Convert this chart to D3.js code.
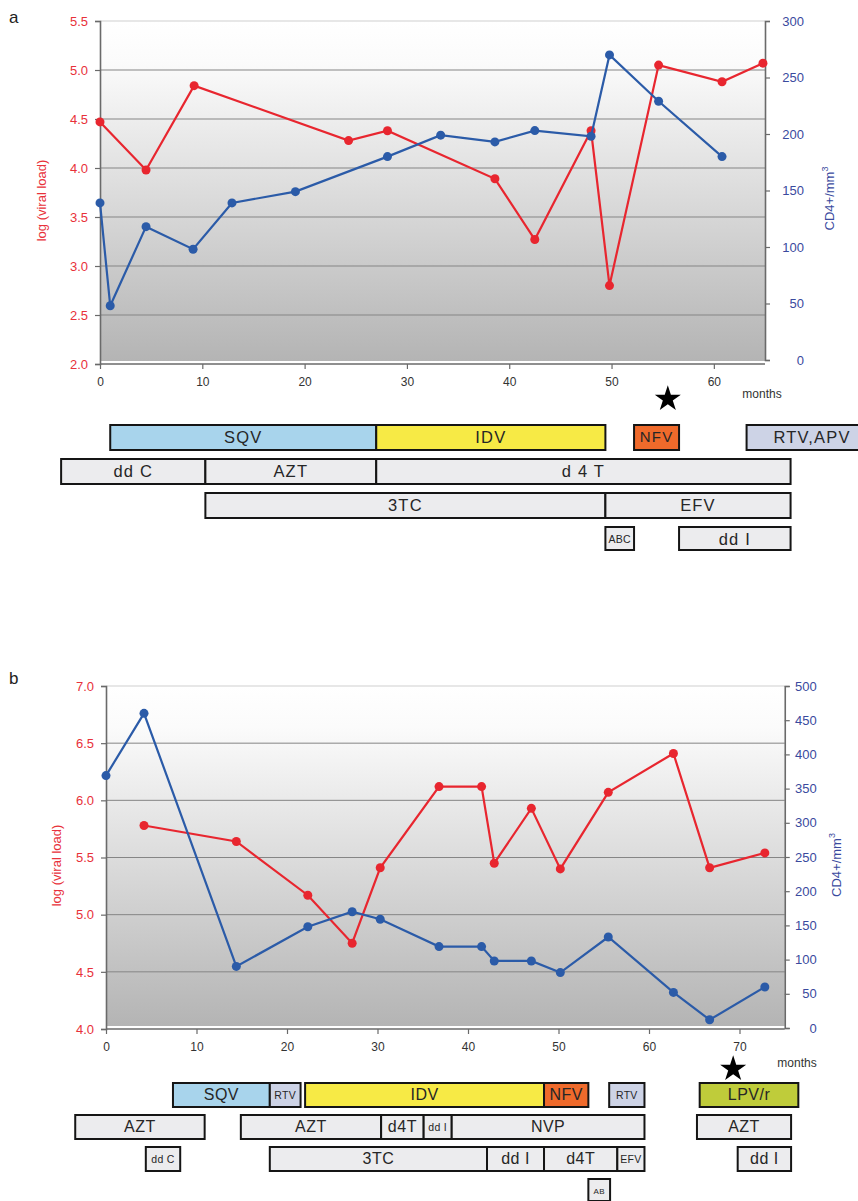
<!DOCTYPE html>
<html><head><meta charset="utf-8">
<script src="https://cdn.jsdelivr.net/npm/d3@7"></script>
<style>body{margin:0;background:#fff}text{font-family:"Liberation Sans",Arial,sans-serif}</style>
</head><body><svg id="c" width="858" height="1201"></svg>
<script>
// ---------- Panel a data ----------
const monthsVLA = [0, 4.5, 9.2, 24.3, 28.1, 38.6, 42.5, 48.0, 49.8, 54.6, 60.8, 64.8];
const vlA       = [4.47, 3.98, 4.84, 4.28, 4.38, 3.89, 3.27, 4.38, 2.80, 5.05, 4.88, 5.07];
const monthsCD4A = [0, 1.0, 4.5, 9.1, 12.9, 19.1, 28.1, 33.3, 38.6, 42.5, 48.0, 49.8, 54.6, 60.8];
const cd4A       = [139, 48, 118, 98, 139, 149, 180, 199, 193, 203, 198, 270, 229, 180];
const xTicksA  = [0, 10, 20, 30, 40, 50, 60];
const vlTicksA = [2.0, 2.5, 3.0, 3.5, 4.0, 4.5, 5.0, 5.5];
const cdTicksA = [0, 50, 100, 150, 200, 250, 300];
const drugNameA  = ["SQV", "IDV", "NFV", "RTV,APV", "dd C", "AZT", "d 4 T", "3TC", "EFV", "ABC", "dd I"];
const drugStartA = [1.0, 27.0, 52.2, 63.2, -3.8, 10.3, 27.0, 10.3, 49.4, 49.4, 56.6];
const drugEndA   = [27.0, 49.4, 56.6, 76.0, 10.3, 27.0, 67.5, 49.4, 67.5, 52.2, 67.5];
const drugRowA   = [0, 0, 0, 0, 1, 1, 1, 2, 2, 3, 3];
const starMonthA = 55.5;

// ---------- Panel b data ----------
const monthsVLB = [4.2, 14.4, 22.3, 27.2, 30.3, 36.8, 41.5, 42.9, 47.0, 50.2, 55.5, 62.7, 66.7, 72.8];
const vlB       = [5.78, 5.64, 5.17, 4.75, 5.41, 6.12, 6.12, 5.45, 5.93, 5.40, 6.07, 6.41, 5.41, 5.54];
const monthsCD4B = [0, 4.2, 14.4, 22.3, 27.2, 30.3, 36.8, 41.5, 42.9, 47.0, 50.2, 55.5, 62.7, 66.7, 72.8];
const cd4B       = [369, 460, 90, 148, 170, 159, 119, 119, 98, 98, 81, 133, 52, 12, 60];
const xTicksB  = [0, 10, 20, 30, 40, 50, 60, 70];
const vlTicksB = [4.0, 4.5, 5.0, 5.5, 6.0, 6.5, 7.0];
const cdTicksB = [0, 50, 100, 150, 200, 250, 300, 350, 400, 450, 500];
const drugNameB  = ["SQV", "RTV", "IDV", "NFV", "RTV", "LPV/r",
                    "AZT", "AZT", "d4T", "dd I", "NVP", "AZT",
                    "dd C", "3TC", "dd I", "d4T", "EFV", "dd I", "AB"];
const drugStartB = [7.4, 18.1, 22.0, 48.4, 55.6, 65.6,
                    -3.4, 14.9, 30.4, 35.1, 38.2, 65.3,
                    4.4, 18.1, 42.1, 48.4, 56.5, 69.8, 53.3];
const drugEndB   = [18.1, 21.5, 48.4, 53.3, 59.5, 76.5,
                    10.9, 30.4, 35.1, 38.2, 59.5, 75.7,
                    8.2, 42.1, 48.4, 56.5, 59.5, 75.7, 55.7];
const drugRowB   = [0, 0, 0, 0, 0, 0, 1, 1, 1, 1, 1, 1, 2, 2, 2, 2, 2, 2, 3];
const starMonthB = 69.3;

// ---------- styles ----------
const RED = "#e8262f", BLUE = "#2b5ba8", RED_T = "#e8313a", BLUE_T = "#3a4a9e";
const drugFill = {"SQV": "#a8d4ec", "IDV": "#f7ea45", "NFV": "#ef6a2b", "RTV": "#cdd3e6",
                  "RTV,APV": "#cdd3e6", "LPV/r": "#bfcc3a"};

const svg = d3.select("#c");
const defs = svg.append("defs");
const grad = defs.append("linearGradient").attr("id", "bg").attr("x1", 0).attr("x2", 0).attr("y1", 0).attr("y2", 1);
grad.append("stop").attr("offset", "0").attr("stop-color", "#ffffff");
grad.append("stop").attr("offset", "0.12").attr("stop-color", "#fbfbfb");
grad.append("stop").attr("offset", "1").attr("stop-color", "#b4b4b4");

function panel(o) {
  const g = svg.append("g");
  const x = d3.scaleLinear().domain([0, o.xMax]).range([o.x0, o.x1]);
  const yL = d3.scaleLinear().domain(o.vlDomain).range([o.yBotL, o.yTop]);
  const yR = d3.scaleLinear().domain(o.cdDomain).range([o.yBotR, o.yTop]);

  g.append("rect").attr("x", o.x0).attr("y", o.yTop).attr("width", o.x1 - o.x0)
    .attr("height", o.yBotL - 3 - o.yTop).attr("fill", "url(#bg)");
  g.selectAll(".grid").data(o.vlTicks.filter(v => v !== o.vlDomain[0])).join("line")
    .attr("x1", o.x0).attr("x2", o.x1).attr("y1", d => yL(d)).attr("y2", d => yL(d))
    .attr("stroke", d => d === o.vlDomain[1] ? "#cfcfcf" : "#858585").attr("stroke-width", 1);

  const axL = g.append("g").attr("transform", `translate(${o.x0},0)`)
    .call(d3.axisLeft(yL).tickValues(o.vlTicks).tickFormat(d3.format(".1f")).tickSize(5).tickPadding(7));
  axL.selectAll("text").attr("fill", RED_T).attr("font-size", 13);
  const axR = g.append("g").attr("transform", `translate(${o.x1},0)`)
    .call(d3.axisRight(yR).tickValues(o.cdTicks).tickFormat(d3.format("d")).tickSize(5).tickPadding(7));
  axR.selectAll("text").attr("fill", BLUE_T).attr("font-size", 13).attr("text-anchor", "end").attr("x", o.rLabelX);
  const axB = g.append("g").attr("transform", `translate(0,${o.yBotL})`)
    .call(d3.axisBottom(x).tickValues(o.xTicks).tickSize(5).tickPadding(8));
  axB.selectAll("text").attr("fill", "#333").attr("font-size", 12);
  [axL, axR, axB].forEach(a => {
    a.selectAll(".domain").attr("stroke", "#6a6a6a").attr("stroke-width", 1.6);
    a.selectAll(".tick line").attr("stroke", "#6a6a6a").attr("stroke-width", 1.2);
  });
  axB.select(".domain").attr("d", `M${o.x0},0H${o.x1}`);

  const vlPts = o.vlMonths.map((m, i) => [m, o.vl[i]]);
  const cdPts = o.cdMonths.map((m, i) => [m, o.cd[i]]);
  g.append("path").datum(vlPts).attr("fill", "none").attr("stroke", RED).attr("stroke-width", 2.2)
    .attr("d", d3.line().x(d => x(d[0])).y(d => yL(d[1])));
  g.selectAll(".dv").data(vlPts).join("circle").attr("cx", d => x(d[0])).attr("cy", d => yL(d[1]))
    .attr("r", 4.5).attr("fill", RED);
  g.append("path").datum(cdPts).attr("fill", "none").attr("stroke", BLUE).attr("stroke-width", 2.2)
    .attr("d", d3.line().x(d => x(d[0])).y(d => yR(d[1])));
  g.selectAll(".dc").data(cdPts).join("circle").attr("cx", d => x(d[0])).attr("cy", d => yR(d[1]))
    .attr("r", 4.5).attr("fill", BLUE);

  g.append("text").attr("transform", `translate(${o.lTitleX},${(o.yTop + o.yBotL) / 2 + 8}) rotate(-90)`)
    .attr("text-anchor", "middle").attr("fill", RED_T).attr("font-size", 13).text("log (viral load)");
  const t = g.append("text").attr("transform", `translate(${o.rTitleX},${(o.yTop + o.yBotR) / 2 + 8}) rotate(-90)`)
    .attr("text-anchor", "middle").attr("fill", BLUE_T).attr("font-size", 13);
  t.append("tspan").text("CD4+/mm");
  t.append("tspan").attr("dy", -6).attr("font-size", 9).text("3");

  g.append("text").attr("x", o.monthsX).attr("y", o.monthsY).attr("font-size", 12).attr("fill", "#333")
    .attr("text-anchor", "middle").text("months");
  g.append("text").attr("x", 9).attr("y", o.letterY).attr("font-size", 17).attr("fill", "#222").text(o.letter);

  g.append("path").attr("d", d3.symbol(d3.symbolStar, 210)())
    .attr("transform", `translate(${x(o.starMonth)},${o.starY})`).attr("fill", "#000");

  const rowY = d3.scaleLinear().domain([0, 1]).range([o.rowTop, o.rowTop + o.rowStep]);
  const bars = o.drugName.map((n, i) => ({name: n, s: o.drugStart[i], e: o.drugEnd[i], r: o.drugRow[i]}));
  const w = d => x(d.e) - x(d.s);
  const fs = d => w(d) < 25 ? 8 : w(d) < 36 ? 10.5 : w(d) < 50 ? o.midFont : o.font;
  const bg = g.selectAll(".bar").data(bars).join("g");
  bg.append("rect").attr("x", d => x(d.s)).attr("y", d => rowY(d.r))
    .attr("width", w).attr("height", d => d.r === 3 ? o.rowH - 2 : o.rowH)
    .attr("fill", d => drugFill[d.name] || "#ececee").attr("stroke", "#151515").attr("stroke-width", 2);
  bg.append("text").attr("x", d => (x(d.s) + x(d.e)) / 2).attr("y", d => rowY(d.r) + o.rowH / 2 + 1)
    .attr("text-anchor", "middle").attr("dominant-baseline", "middle")
    .attr("font-size", fs)
    .attr("letter-spacing", d => w(d) < 36 ? 0.3 : o.spacing)
    .attr("fill", "#262626")
    .text(d => d.name);
}

panel({x0: 100, x1: 765, xMax: 65, yTop: 21, yBotL: 364, yBotR: 360,
  vlDomain: [2.0, 5.5], cdDomain: [0, 300], xTicks: xTicksA, vlTicks: vlTicksA, cdTicks: cdTicksA,
  vlMonths: monthsVLA, vl: vlA, cdMonths: monthsCD4A, cd: cd4A,
  rLabelX: 39, lTitleX: 46, rTitleX: 834, monthsX: 762, monthsY: 398, letter: "a", letterY: 23,
  starMonth: starMonthA, starY: 399,
  drugName: drugNameA, drugStart: drugStartA, drugEnd: drugEndA, drugRow: drugRowA,
  rowTop: 425, rowStep: 34, rowH: 25, font: 16.5, midFont: 15, spacing: 1.2});

panel({x0: 106, x1: 784.75, xMax: 75, yTop: 686, yBotL: 1029, yBotR: 1028,
  vlDomain: [4.0, 7.0], cdDomain: [0, 500], xTicks: xTicksB, vlTicks: vlTicksB, cdTicks: cdTicksB,
  vlMonths: monthsVLB, vl: vlB, cdMonths: monthsCD4B, cd: cd4B,
  rLabelX: 32, lTitleX: 61, rTitleX: 841, monthsX: 797, monthsY: 1067, letter: "b", letterY: 684,
  starMonth: starMonthB, starY: 1069,
  drugName: drugNameB, drugStart: drugStartB, drugEnd: drugEndB, drugRow: drugRowB,
  rowTop: 1083, rowStep: 32, rowH: 24, font: 16, midFont: 16, spacing: 0.5});
</script></body></html>
